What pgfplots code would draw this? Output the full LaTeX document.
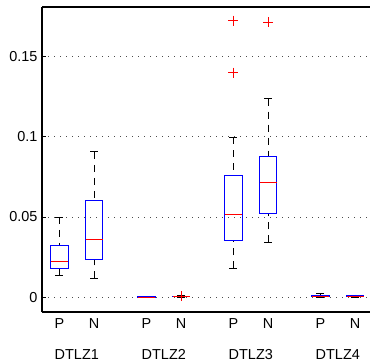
\documentclass[border=0pt]{standalone}
\usepackage{pgfplots}
\pgfplotsset{compat=1.18}
\usepgfplotslibrary{statistics}
\usetikzlibrary{calc}
\usepackage{fontspec}
\setmainfont{Liberation Sans}
\begin{document}
\begin{tikzpicture}
\begin{axis}[
  scale only axis, width=328bp, height=305bp,
  xmin=0.6, xmax=4.37, ymin=-0.0091, ymax=0.1805,
  axis x line*=box, axis y line*=left,
  axis line style={black, line width=1.1bp},
  font=\fontsize{14.5}{17}\selectfont,
  /pgf/number format/assume math mode=true,
  ytick={0,0.05,0.1,0.15},
  yticklabels={0,0.05,0.1,0.15},
  yticklabel style={xshift=-1bp},
  tick align=inside, major tick length=4bp,
  ytick style={black, line width=0.6bp},
  ymajorgrids,
  grid style={black!70, line width=0.7bp, dash pattern=on 0.8bp off 5.2bp},
  xtick={0.8,1.2,1.8,2.2,2.8,3.2,3.8,4.2},
  xticklabels={P,N,P,N,P,N,P,N},
  xtick style={draw=none},
  xticklabel style={yshift=-3bp},
  extra x ticks={1,2,3,4},
  extra x tick labels={DTLZ1,DTLZ2,DTLZ3,DTLZ4},
  extra x tick style={grid=none, xtick style={draw=none}, xticklabel style={yshift=-31bp}},
  boxplot/draw direction=y,
  boxplot/box extend=0.2,
  boxplot/whisker extend=0.09,
  boxplot/every box/.style={draw=blue, line width=1bp},
  boxplot/every median/.style={draw=red, line width=0.8bp},
  boxplot/draw/lower whisker/.code={%
    \draw[black, line width=0.7bp, dash pattern=on 7bp off 6bp]
      (boxplot box cs:\pgfplotsboxplotvalue{lower whisker},0.5) --
      (boxplot box cs:\pgfplotsboxplotvalue{lower quartile},0.5);
    \draw[black, line width=0.7bp]
      (boxplot whisker cs:\pgfplotsboxplotvalue{lower whisker},0) --
      (boxplot whisker cs:\pgfplotsboxplotvalue{lower whisker},1);
  },
  boxplot/draw/upper whisker/.code={%
    \draw[black, line width=0.7bp, dash pattern=on 7bp off 6bp]
      (boxplot box cs:\pgfplotsboxplotvalue{upper whisker},0.5) --
      (boxplot box cs:\pgfplotsboxplotvalue{upper quartile},0.5);
    \draw[black, line width=0.7bp]
      (boxplot whisker cs:\pgfplotsboxplotvalue{upper whisker},0) --
      (boxplot whisker cs:\pgfplotsboxplotvalue{upper whisker},1);
  },
  out/.style={black, solid, mark=+, mark options={draw=red, line width=0.8bp, solid}, mark size=5bp},
]
% DTLZ1 P
\addplot[out, boxplot prepared={draw position=0.8, lower whisker=0.0137, lower quartile=0.0180, median=0.0224, upper quartile=0.0321, upper whisker=0.0500}] coordinates {};
% DTLZ1 N
\addplot[out, boxplot prepared={draw position=1.2, lower whisker=0.0118, lower quartile=0.0236, median=0.0363, upper quartile=0.0605, upper whisker=0.0905}] coordinates {};
% DTLZ2 P
\addplot[out, boxplot prepared={draw position=1.8, lower whisker=0.0000, lower quartile=0.0001, median=0.0002, upper quartile=0.0003, upper whisker=0.0004}] coordinates {};
% DTLZ2 N
\addplot[out, boxplot prepared={draw position=2.2, lower whisker=0.0002, lower quartile=0.0003, median=0.0005, upper quartile=0.0008, upper whisker=0.0011}] coordinates {(0,0.0006)};
% DTLZ3 P
\addplot[out, boxplot prepared={draw position=2.8, lower whisker=0.0182, lower quartile=0.0352, median=0.0516, upper quartile=0.0756, upper whisker=0.0995}] coordinates {(0,0.1720) (0,0.1397)};
% DTLZ3 N
\addplot[out, boxplot prepared={draw position=3.2, lower whisker=0.0342, lower quartile=0.0524, median=0.0717, upper quartile=0.0877, upper whisker=0.1235}] coordinates {(0,0.1710)};
% DTLZ4 P
\addplot[out, boxplot prepared={draw position=3.8, lower whisker=0.0001, lower quartile=0.0006, median=0.0009, upper quartile=0.0014, upper whisker=0.0022}] coordinates {};
% DTLZ4 N
\addplot[out, boxplot prepared={draw position=4.2, lower whisker=0.0003, lower quartile=0.0006, median=0.0008, upper quartile=0.0012, upper whisker=0.0015}] coordinates {};
\end{axis}
\pgfresetboundingbox
\path ($(current axis.south west)+(-42bp,-51bp)$) rectangle ($(current axis.north east)+(0bp,7bp)$);
\end{tikzpicture}
\end{document}
